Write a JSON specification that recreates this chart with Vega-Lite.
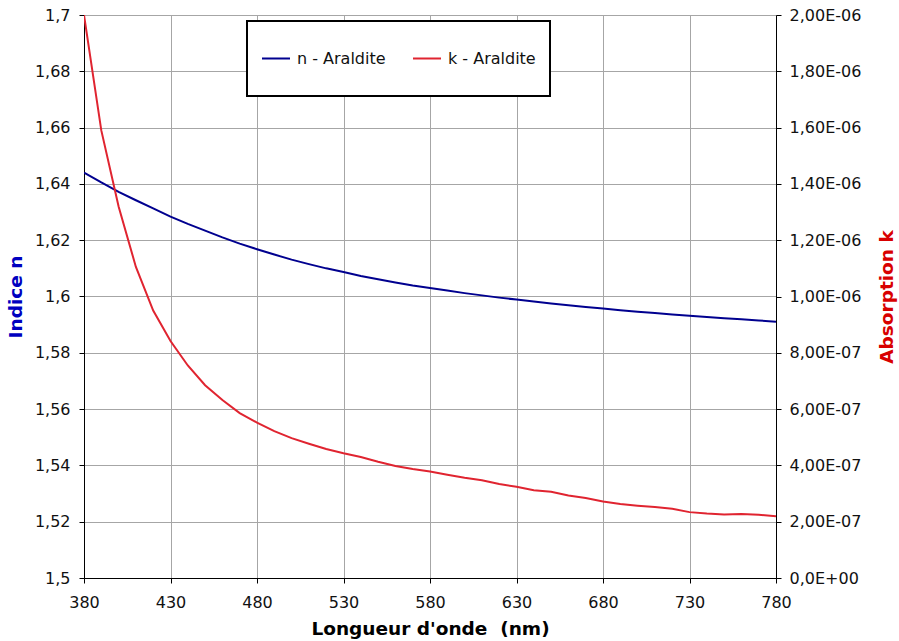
{
  "$schema": "https://vega.github.io/schema/vega-lite/v6.json",
  "width": 692,
  "height": 563,
  "autosize": "none",
  "padding": {"left": 84, "top": 15, "right": 123, "bottom": 63},
  "background": "white",
  "config": {
    "font": "DejaVu Sans",
    "view": {"stroke": null},
    "axis": {
      "labelFont": "DejaVu Sans",
      "labelFontSize": 16,
      "labelColor": "#111111",
      "titleFont": "DejaVu Sans",
      "titleFontSize": 18.5,
      "titleFontWeight": "bold",
      "domainColor": "#000000",
      "domainWidth": 1,
      "tickColor": "#000000",
      "tickSize": 5,
      "gridColor": "#a6a6a6",
      "gridWidth": 1,
      "gridOpacity": 1
    }
  },
  "data": {
    "values": [
      {"wl": 380, "n": 1.6440, "k": 2.00e-6},
      {"wl": 390, "n": 1.6405, "k": 1.59e-6},
      {"wl": 400, "n": 1.6372, "k": 1.32e-6},
      {"wl": 410, "n": 1.6342, "k": 1.105e-6},
      {"wl": 420, "n": 1.6313, "k": 9.50e-7},
      {"wl": 430, "n": 1.6284, "k": 8.42e-7},
      {"wl": 440, "n": 1.6258, "k": 7.55e-7},
      {"wl": 450, "n": 1.6234, "k": 6.85e-7},
      {"wl": 460, "n": 1.6210, "k": 6.32e-7},
      {"wl": 470, "n": 1.6188, "k": 5.86e-7},
      {"wl": 480, "n": 1.6168, "k": 5.52e-7},
      {"wl": 490, "n": 1.6149, "k": 5.22e-7},
      {"wl": 500, "n": 1.6131, "k": 4.97e-7},
      {"wl": 510, "n": 1.6115, "k": 4.77e-7},
      {"wl": 520, "n": 1.6100, "k": 4.58e-7},
      {"wl": 530, "n": 1.6087, "k": 4.43e-7},
      {"wl": 540, "n": 1.6073, "k": 4.30e-7},
      {"wl": 550, "n": 1.6061, "k": 4.13e-7},
      {"wl": 560, "n": 1.6050, "k": 3.98e-7},
      {"wl": 570, "n": 1.6039, "k": 3.87e-7},
      {"wl": 580, "n": 1.6030, "k": 3.78e-7},
      {"wl": 590, "n": 1.6021, "k": 3.67e-7},
      {"wl": 600, "n": 1.6012, "k": 3.56e-7},
      {"wl": 610, "n": 1.6004, "k": 3.47e-7},
      {"wl": 620, "n": 1.5996, "k": 3.34e-7},
      {"wl": 630, "n": 1.5989, "k": 3.24e-7},
      {"wl": 640, "n": 1.5982, "k": 3.12e-7},
      {"wl": 650, "n": 1.5975, "k": 3.06e-7},
      {"wl": 660, "n": 1.5969, "k": 2.93e-7},
      {"wl": 670, "n": 1.5963, "k": 2.84e-7},
      {"wl": 680, "n": 1.5957, "k": 2.72e-7},
      {"wl": 690, "n": 1.5951, "k": 2.63e-7},
      {"wl": 700, "n": 1.5946, "k": 2.57e-7},
      {"wl": 710, "n": 1.5941, "k": 2.52e-7},
      {"wl": 720, "n": 1.5936, "k": 2.46e-7},
      {"wl": 730, "n": 1.5932, "k": 2.34e-7},
      {"wl": 740, "n": 1.5927, "k": 2.29e-7},
      {"wl": 750, "n": 1.5923, "k": 2.26e-7},
      {"wl": 760, "n": 1.5919, "k": 2.27e-7},
      {"wl": 770, "n": 1.5915, "k": 2.25e-7},
      {"wl": 780, "n": 1.5910, "k": 2.19e-7}
    ]
  },
  "encoding": {
    "x": {
      "field": "wl",
      "type": "quantitative",
      "scale": {"domain": [380, 780], "nice": false, "zero": false},
      "axis": {
        "title": "Longueur d'onde \u00a0(nm)",
        "values": [380, 430, 480, 530, 580, 630, 680, 730, 780],
        "format": "d",
        "grid": true,
        "labelFlush": false,
        "labelPadding": 11,
        "titlePadding": 9,
        "titleColor": "#000000"
      }
    }
  },
  "layer": [
    {
      "mark": {"type": "line", "strokeWidth": 2, "clip": true},
      "encoding": {
        "y": {
          "field": "n",
          "type": "quantitative",
          "scale": {"domain": [1.5, 1.7], "nice": false, "zero": false},
          "axis": {
            "title": "Indice n",
            "titleColor": "#0000c0",
            "orient": "left",
            "values": [1.5, 1.52, 1.54, 1.56, 1.58, 1.6, 1.62, 1.64, 1.66, 1.68, 1.7],
            "labelExpr": "replace(format(datum.value, '.2~f'), '.', ',')",
            "grid": true,
            "labelFlush": false,
            "labelPadding": 9,
            "titlePadding": 9
          }
        },
        "color": {
          "datum": "n - Araldite",
          "type": "nominal",
          "scale": {"domain": ["n - Araldite", "k - Araldite"], "range": ["#00008f", "#e02430"]},
          "legend": {
            "title": null,
            "orient": "none",
            "legendX": 163,
            "legendY": 6,
            "direction": "horizontal",
            "symbolType": "stroke",
            "symbolSize": 784,
            "symbolStrokeWidth": 2,
            "labelFont": "DejaVu Sans",
            "labelFontSize": 16,
            "labelColor": "#111111",
            "labelOffset": 6,
            "columnPadding": 26,
            "padding": 14,
            "clipHeight": 47,
            "strokeColor": "#000000",
            "fillColor": "#ffffff",
            "encode": {"legend": {"update": {"strokeWidth": {"value": 2}}}}
          }
        }
      }
    },
    {
      "mark": {"type": "line", "strokeWidth": 2, "clip": true},
      "encoding": {
        "y": {
          "field": "k",
          "type": "quantitative",
          "scale": {"domain": [0, 2e-6], "nice": false},
          "axis": {
            "title": "Absorption k",
            "titleColor": "#d80000",
            "orient": "right",
            "titleAngle": 270,
            "values": [0, 2e-7, 4e-7, 6e-7, 8e-7, 1e-6, 1.2e-6, 1.4e-6, 1.6e-6, 1.8e-6, 2e-6],
            "labelExpr": "datum.value == 0 ? '0,0E+00' : (datum.value < 9.9e-7 ? replace(format(datum.value * 1e7, '.2f'), '.', ',') + 'E-07' : replace(format(datum.value * 1e6, '.2f'), '.', ',') + 'E-06')",
            "grid": false,
            "labelFlush": false,
            "labelPadding": 8,
            "titlePadding": 36
          }
        },
        "color": {"datum": "k - Araldite", "type": "nominal"}
      }
    }
  ],
  "resolve": {"scale": {"y": "independent"}}
}
